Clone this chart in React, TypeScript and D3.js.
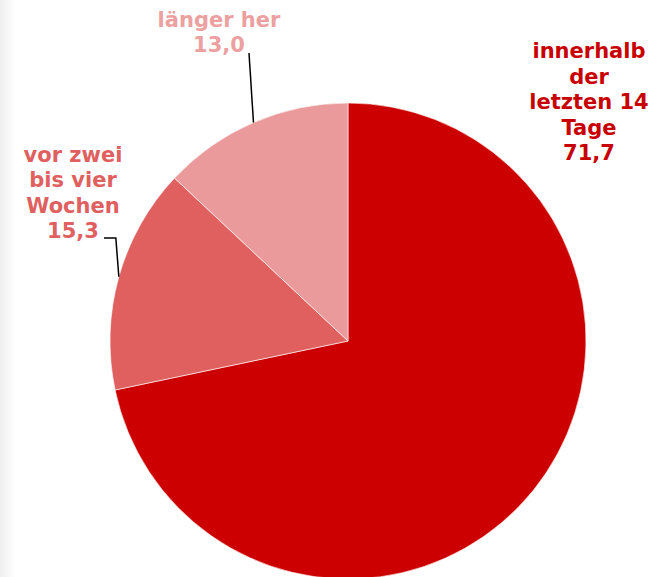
import React from "react";
import * as d3 from "d3";

// Anteile in Prozent, im Uhrzeigersinn ab 12 Uhr
const categories = ["innerhalb der letzten 14 Tage", "vor zwei bis vier Wochen", "länger her"];
const values = [71.7, 15.3, 13.0];
const valueLabels = ["71,7", "15,3", "13,0"];
const labelLines = [
  ["innerhalb", "der", "letzten 14", "Tage"],
  ["vor zwei", "bis vier", "Wochen"],
  ["länger her"],
];

const sliceColors = ["#cc0000", "#e06060", "#ea9a9a"];
const textColors = ["#c80000", "#e06060", "#eda0a0"];

const width = 670;
const height = 577;
const cx = 348;
const cy = 341;
const radius = 238;
const lineHeight = 25.5;

// Position der letzten Textzeile (Wert) je Beschriftung
const labelPos = [
  { x: 589, y: 160 },
  { x: 73, y: 238 },
  { x: 219, y: 52 },
];

export default function App() {
  const pie = d3
    .pie<number>()
    .sort(null)
    .value((d) => d);
  const arcs = pie(values);
  const arc = d3.arc<d3.PieArcDatum<number>>().innerRadius(0).outerRadius(radius);

  const edgePoint = (a: d3.PieArcDatum<number>) => {
    const m = (a.startAngle + a.endAngle) / 2;
    return [cx + radius * Math.sin(m), cy - radius * Math.cos(m)];
  };

  // leader lines for the two small slices
  const leader1 = edgePoint(arcs[1]);
  const leader2 = edgePoint(arcs[2]);
  const lead1 = d3.line()([
    [labelPos[1].x + 31, labelPos[1].y],
    [leader1[0] - 3, labelPos[1].y],
    leader1 as [number, number],
  ]);
  const lead2 = d3.line()([
    [labelPos[2].x + 30, labelPos[2].y + 1],
    leader2 as [number, number],
  ]);

  return (
    <svg
      width={width}
      height={height}
      style={{ position: "absolute", left: 0, top: 0, display: "block" }}
      fontFamily="'DejaVu Sans', Verdana, sans-serif"
      fontWeight="bold"
      fontSize={21}
    >
      <defs>
        <linearGradient id="edge" x1="0" x2="1" y1="0" y2="0">
          <stop offset="0" stopColor="#efefef" />
          <stop offset="1" stopColor="#ffffff" />
        </linearGradient>
      </defs>
      <rect width={width} height={height} fill="#fff" />
      <rect x={0} y={0} width={16} height={height} fill="url(#edge)" />
      <g transform={`translate(${cx},${cy})`}>
        {arcs.map((a, i) => (
          <path key={categories[i]} d={arc(a) || ""} fill={sliceColors[i]} stroke="#fff" strokeWidth={0.6} />
        ))}
      </g>
      <path d={lead1 || ""} fill="none" stroke="#000" strokeWidth={1.5} />
      <path d={lead2 || ""} fill="none" stroke="#000" strokeWidth={1.5} />
      {labelLines.map((lines, i) => {
        const all = [...lines, valueLabels[i]];
        const p = labelPos[i];
        return (
          <text key={i} textAnchor="middle" fill={textColors[i]}>
            {all.map((t, j) => (
              <tspan key={j} x={p.x} y={p.y - (all.length - 1 - j) * lineHeight}>
                {t}
              </tspan>
            ))}
          </text>
        );
      })}
    </svg>
  );
}
